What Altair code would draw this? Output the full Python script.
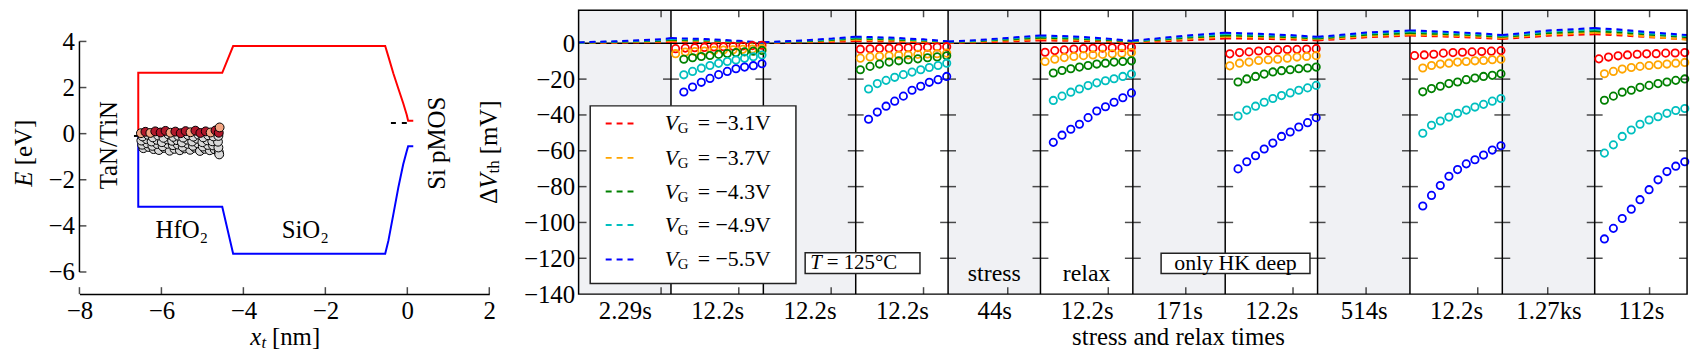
import json
import altair as alt
import pandas as pd

FONT = "Liberation Serif"

# ======================= left panel: band diagram =======================
band_x_nm = [-6.565, -6.565, -4.516, -4.25, -0.54, -0.46, -0.34, -0.22, -0.10, -0.015, 0.02, 0.145]
conduction_band_eV = [-0.05, 2.64, 2.64, 3.80, 3.80, 3.33, 2.61, 1.96, 1.32, 0.82, 0.56, 0.56]
valence_band_eV = [-0.10, -3.17, -3.17, -5.21, -5.21, -4.63, -3.49, -2.34, -1.33, -0.76, -0.55, -0.55]
metal_fermi_x_nm = [-6.67, -6.55]
metal_fermi_eV = [-0.10, -0.10]
si_fermi_x_nm = [-0.40, 0.00]
si_fermi_eV = [0.46, 0.46]

trap_x_nm = [
    -6.44, -6.31, -6.19, -6.06, -5.93, -5.80, -5.68, -5.55, -5.43, -5.30, -5.18, -5.06, -4.94, -4.82, -4.70, -4.60, -4.59,
    -6.47, -6.35, -6.22, -6.10, -5.97, -5.85, -5.72, -5.60, -5.48, -5.36, -5.23, -5.11, -4.99, -4.87, -4.74, -4.61,
    -6.49, -6.36, -6.24, -6.11, -5.99, -5.86, -5.74, -5.62, -5.50, -5.37, -5.25, -5.13, -5.00, -4.88, -4.76, -4.62,
    -6.46, -6.33, -6.21, -6.08, -5.95, -5.83, -5.71, -5.59, -5.47, -5.35, -5.22, -5.10, -4.98, -4.86, -4.73, -4.61,
    -6.50, -6.39, -6.27, -6.15, -6.02, -5.90, -5.78, -5.66, -5.53, -5.41, -5.29, -5.17, -5.05, -4.92, -4.80, -4.68, -4.60, -4.58,
]
trap_E_eV = [
    -0.63, -0.58, -0.67, -0.71, -0.62, -0.74, -0.66, -0.72, -0.64, -0.70, -0.61, -0.75, -0.66, -0.72, -0.68, -0.80, -0.90,
    -0.48, -0.42, -0.53, -0.45, -0.55, -0.44, -0.50, -0.47, -0.57, -0.44, -0.53, -0.42, -0.56, -0.49, -0.51, -0.60,
    -0.30, -0.24, -0.34, -0.27, -0.37, -0.25, -0.31, -0.28, -0.38, -0.26, -0.34, -0.22, -0.37, -0.29, -0.33, -0.35,
    -0.12, -0.05, -0.16, -0.08, -0.18, -0.03, -0.14, -0.09, -0.17, -0.06, -0.13, -0.04, -0.16, -0.07, -0.12, -0.10,
    0.02, 0.08, 0.03, 0.10, 0.05, 0.12, 0.04, 0.09, 0.02, 0.11, 0.06, 0.13, 0.03, 0.10, 0.05, 0.14, 0.04, 0.27,
]
trap_state = (["empty"] * 17 + ["empty"] * 16 + ["empty"] * 16 + ["empty"] * 16 + [
    "partial", "occupied", "partial", "occupied", "occupied", "occupied", "partial", "occupied", "occupied",
    "occupied", "partial", "occupied", "occupied", "occupied", "partial", "occupied", "occupied", "partial"])

left_x_ticks = [-8, -6, -4, -2, 0, 2]
left_y_ticks = [-6, -4, -2, 0, 2, 4]

# ======================= right panel: threshold shift =======================
segment_labels = ["2.29s", "12.2s", "12.2s", "12.2s", "44s", "12.2s", "171s", "12.2s", "514s", "12.2s", "1.27ks", "112s"]
segment_durations_s = [2.29, 12.2, 12.2, 12.2, 44.0, 12.2, 171.0, 12.2, 514.0, 12.2, 1270.0, 112.0]
segment_phase = ["stress", "relax"] * 6
series_labels = ["−3.1V", "−3.7V", "−4.3V", "−4.9V", "−5.5V"]
series_colors = ["#ff0000", "#ffa500", "#008000", "#00bfbf", "#0000ff"]
dvth_ticks = [-140, -120, -100, -80, -60, -40, -20, 0]

# measured relaxation times (s)
t_relax_12s_early = [0.0016, 0.0043, 0.0113, 0.030, 0.080, 0.21, 0.56, 1.5, 4.0, 10.6]
t_relax_12s_late = [0.0037, 0.0090, 0.022, 0.053, 0.128, 0.31, 0.75, 1.8, 4.4, 10.6]
t_relax_112s_early = [0.0017, 0.0057, 0.019, 0.062, 0.21, 0.69, 2.3, 7.6, 25.0, 84.0]
t_relax_112s_late = [0.0034, 0.0105, 0.032, 0.10, 0.30, 0.94, 2.9, 8.9, 27.0, 84.0]

# measured dVth (mV), rows = series (-3.1V ... -5.5V)
relax2_mV = [[-3.0, -2.7, -2.5, -2.3, -2.1, -1.9, -1.7, -1.5, -1.3, -1.1],
             [-5.8, -4.9, -4.6, -4.3, -4.0, -3.8, -3.6, -3.4, -3.2, -3.0],
             [-8.9, -8.1, -7.4, -6.8, -6.2, -5.7, -5.2, -4.8, -4.4, -4.0],
             [-17.6, -15.7, -13.9, -12.4, -11.2, -10.2, -9.3, -8.4, -7.5, -6.6],
             [-27.2, -24.4, -21.8, -19.6, -17.5, -15.7, -14.2, -13.3, -12.5, -11.4]]
relax4_mV = [[-3.3, -3.1, -2.9, -2.8, -2.6, -2.5, -2.4, -2.2, -2.1, -1.9],
             [-8.3, -7.6, -7.3, -7.0, -6.7, -6.5, -6.2, -6.0, -5.8, -5.5],
             [-14.8, -12.9, -11.6, -10.5, -9.8, -9.2, -8.7, -8.1, -7.6, -7.0],
             [-25.5, -22.5, -20.7, -19.0, -17.5, -16.1, -14.8, -13.5, -12.4, -11.1],
             [-42.4, -38.4, -35.1, -32.3, -29.5, -26.2, -24.0, -21.8, -20.3, -18.5]]
relax6_mV = [[-5.0, -4.1, -3.7, -3.2, -3.0, -2.8, -2.7, -2.5, -2.4, -2.2],
             [-10.2, -8.9, -8.0, -7.4, -6.9, -6.5, -6.2, -5.9, -5.6, -5.2],
             [-16.6, -15.2, -14.2, -13.3, -12.4, -11.6, -11.1, -10.5, -10.2, -9.8],
             [-31.9, -29.5, -27.3, -25.5, -23.6, -22.1, -20.9, -19.8, -18.5, -17.2],
             [-55.3, -51.3, -48.0, -45.2, -41.5, -37.8, -35.4, -32.9, -30.4, -27.7]]
relax8_mV = [[-5.9, -5.2, -4.8, -4.3, -4.1, -3.7, -3.5, -3.4, -3.2, -3.0],
             [-12.6, -11.1, -10.5, -9.6, -9.2, -8.9, -8.3, -7.7, -7.4, -6.9],
             [-21.6, -19.9, -18.5, -17.2, -16.0, -15.3, -14.8, -14.2, -13.8, -13.3],
             [-40.6, -37.3, -35.1, -32.9, -30.8, -29.2, -27.7, -26.2, -24.9, -23.5],
             [-70.1, -66.1, -62.8, -59.0, -55.7, -52.0, -49.5, -46.7, -44.3, -41.5]]
relax10_mV = [[-6.9, -6.5, -6.1, -5.5, -5.2, -5.0, -4.8, -4.6, -4.4, -4.1],
              [-13.8, -12.4, -11.6, -11.1, -10.5, -10.2, -9.8, -9.6, -9.2, -8.9],
              [-27.1, -25.3, -24.0, -22.5, -21.6, -20.3, -19.4, -18.5, -17.9, -17.0],
              [-50.2, -45.8, -43.4, -41.2, -39.1, -37.3, -35.6, -34.1, -32.3, -30.8],
              [-90.8, -84.9, -79.4, -74.2, -70.5, -67.3, -65.0, -62.4, -59.6, -57.2]]
relax12_mV = [[-8.7, -7.7, -7.0, -6.5, -6.1, -5.9, -5.8, -5.5, -5.4, -5.2],
              [-17.0, -15.7, -14.4, -13.5, -12.9, -12.4, -12.0, -11.6, -11.1, -10.7],
              [-31.8, -29.5, -27.3, -26.2, -24.6, -23.5, -22.5, -21.6, -20.7, -19.9],
              [-61.3, -56.7, -52.0, -48.4, -45.2, -42.8, -41.0, -39.1, -37.5, -36.4],
              [-109.2, -103.3, -97.8, -92.6, -87.3, -81.7, -76.2, -71.6, -68.6, -66.1]]
# which series start at the earlier first measurement time
relax2_early = [True, True, False, False, False]
relax4_early = [True, True, True, False, False]
relax6_early = [True, True, False, False, False]
relax8_early = [True, True, False, False, False]
relax10_early = [True, False, False, False, False]
relax12_early = [True, False, False, False, False]

# model (dashed) dVth (mV) at times [1ms, 30ms, 1s, end of segment]
model_times_s = [0.001, 0.03, 1.0]
model1_mV = [[0.1, 0.3, 0.6, 0.9], [0.2, 0.5, 1.0, 1.4], [0.3, 0.8, 1.4, 1.9], [0.4, 1.0, 1.8, 2.4], [0.5, 1.2, 2.2, 2.9]]
model2_mV = [[0.9, 0.7, 0.3, 0.0], [1.4, 1.2, 0.6, 0.1], [1.9, 1.6, 0.9, 0.2], [2.4, 2.0, 1.1, 0.3], [2.9, 2.4, 1.4, 0.4]]
model3_mV = [[0.1, 0.4, 0.8, 1.2], [0.3, 0.7, 1.3, 1.9], [0.4, 0.9, 1.8, 2.6], [0.5, 1.2, 2.2, 3.2], [0.6, 1.4, 2.6, 3.7]]
model4_mV = [[1.2, 1.0, 0.6, 0.2], [1.9, 1.6, 1.0, 0.5], [2.6, 2.2, 1.5, 0.7], [3.2, 2.7, 1.8, 0.9], [3.7, 3.2, 2.2, 1.1]]
model5_mV = [[0.2, 0.5, 1.0, 1.6], [0.4, 0.9, 1.6, 2.4], [0.6, 1.2, 2.1, 3.1], [0.8, 1.5, 2.6, 3.8], [1.0, 1.8, 3.0, 4.4]]
model6_mV = [[1.6, 1.3, 0.9, 0.3], [2.4, 2.0, 1.4, 0.6], [3.1, 2.6, 1.8, 0.9], [3.8, 3.2, 2.2, 1.1], [4.4, 3.8, 2.6, 1.3]]
model7_mV = [[0.4, 1.0, 1.7, 2.7], [0.7, 1.5, 2.4, 3.6], [1.0, 2.0, 3.1, 4.4], [1.2, 2.4, 3.7, 5.2], [1.5, 2.8, 4.3, 5.9]]
model8_mV = [[2.7, 2.5, 2.1, 1.6], [3.6, 3.3, 2.8, 2.2], [4.4, 4.0, 3.4, 2.7], [5.2, 4.7, 4.0, 3.2], [5.9, 5.3, 4.5, 3.6]]
model9_mV = [[1.6, 2.4, 3.3, 4.3], [2.2, 3.0, 3.9, 4.9], [2.7, 3.6, 4.7, 5.7], [3.2, 4.2, 5.4, 6.5], [3.6, 4.7, 6.0, 7.2]]
model10_mV = [[4.3, 3.8, 3.1, 2.4], [4.9, 4.4, 3.7, 3.0], [5.7, 5.2, 4.4, 3.6], [6.5, 5.9, 5.0, 4.1], [7.2, 6.5, 5.6, 4.6]]
model11_mV = [[2.4, 3.3, 4.2, 5.0], [3.0, 3.9, 4.9, 5.9], [3.6, 4.6, 5.7, 6.8], [4.1, 5.2, 6.5, 7.7], [4.6, 5.8, 7.1, 8.5]]
model12_mV = [[5.0, 4.4, 3.4, 2.2], [5.9, 5.0, 3.7, 2.0], [6.8, 6.0, 4.8, 3.4], [7.7, 6.8, 5.5, 4.0], [8.5, 7.6, 6.2, 4.6]]

# ======================= build tables =======================
n_band = len(band_x_nm)
band_df = pd.DataFrame({
    "x": band_x_nm * 2,
    "E": conduction_band_eV + valence_band_eV,
    "band": ["Ec"] * n_band + ["Ev"] * n_band,
    "order": list(range(n_band)) * 2,
})
metal_df = pd.DataFrame({"x": metal_fermi_x_nm, "E": metal_fermi_eV})
sif_df = pd.DataFrame({"x": si_fermi_x_nm, "E": si_fermi_eV})
trap_df = pd.DataFrame({"x": trap_x_nm, "E": trap_E_eV, "state": trap_state, "order": range(len(trap_x_nm))})
lxt_df = pd.DataFrame({"x": left_x_ticks})
lyt_df = pd.DataFrame({"E": left_y_ticks})

seg_df = pd.DataFrame({"seg": range(12), "T": segment_durations_s, "phase": segment_phase})

relax_sets = [(1, relax2_mV, relax2_early), (3, relax4_mV, relax4_early), (5, relax6_mV, relax6_early),
              (7, relax8_mV, relax8_early), (9, relax10_mV, relax10_early), (11, relax12_mV, relax12_early)]
pts = []
for seg, vals, early in relax_sets:
    T = segment_durations_s[seg]
    te, tl = (t_relax_112s_early, t_relax_112s_late) if T > 50 else (t_relax_12s_early, t_relax_12s_late)
    for si, series in enumerate(vals):
        times = te if early[si] else tl
        for t, v in zip(times, series):
            pts.append({"seg": seg, "T": T, "t": t, "dv": v, "series": series_labels[si], "si": si})
pts_df = pd.DataFrame(pts)

model_sets = [model1_mV, model2_mV, model3_mV, model4_mV, model5_mV, model6_mV,
              model7_mV, model8_mV, model9_mV, model10_mV, model11_mV, model12_mV]
lines = []
for seg, vals in enumerate(model_sets):
    T = segment_durations_s[seg]
    times = model_times_s + [T]
    for si, series in enumerate(vals):
        for t, v in zip(times, series):
            lines.append({"seg": seg, "T": T, "t": t, "dv": v, "series": series_labels[si],
                          "key": f"{si}-{seg:02d}"})
lines_df = pd.DataFrame(lines)

bound_df = pd.DataFrame({"b": list(range(1, 12))})
ytick_inner = pd.DataFrame([{"b": b, "y": y} for b in range(1, 12) for y in dvth_ticks[1:-1]])
ytick_left = pd.DataFrame([{"b": 0, "y": y} for y in dvth_ticks[1:-1]])
ytick_right = pd.DataFrame([{"b": 12, "y": y} for y in dvth_ticks[1:-1]])
one = pd.DataFrame({"a": [0]})

XPOS = "datum.seg + (log(datum.t)/LN10 + 3) / (log(datum.T)/LN10 + 3)"

# ======================= left chart =======================
WL, H = 413, 286
XL = alt.Scale(domain=[-8, 2], nice=False, zero=False)
YL = alt.Scale(domain=[-6.96, 5.35], nice=False, zero=False)
lab = dict(labelFont=FONT, labelFontSize=25, labelColor="black", labelFlush=False, labelOverlap=False)
XL_AX = alt.Axis(values=left_x_ticks, title=None, grid=False, ticks=False, domain=True,
                 domainColor="black", domainWidth=1.5, labelPadding=5, **lab)
YL_AX = alt.Axis(values=left_y_ticks, title=None, grid=False, ticks=False, domain=False,
                 labelPadding=5, **lab)


def xl(f):
    return alt.X(f, scale=XL, axis=XL_AX)


def yl(f):
    return alt.Y(f, scale=YL, axis=YL_AX)


def xld(v):
    return alt.XDatum(v, scale=XL, axis=XL_AX)


def yld(v):
    return alt.YDatum(v, scale=YL, axis=YL_AX)


bands = alt.Chart(band_df).mark_line(strokeWidth=2).encode(
    x=xl("x:Q"), y=yl("E:Q"),
    color=alt.Color("band:N", scale=alt.Scale(domain=["Ec", "Ev"], range=["#ff0000", "#0000ff"]), legend=None),
    order="order:Q",
)
metal = alt.Chart(metal_df).mark_line(color="black", strokeWidth=2).encode(x=xl("x:Q"), y=yl("E:Q"))
sif = alt.Chart(sif_df).mark_line(color="black", strokeWidth=2, strokeDash=[5, 6]).encode(x=xl("x:Q"), y=yl("E:Q"))
traps = alt.Chart(trap_df).mark_point(shape="circle", filled=True, size=80, stroke="black",
                                      strokeWidth=1, opacity=1).encode(
    x=xl("x:Q"), y=yl("E:Q"),
    fill=alt.Fill("state:N", scale=alt.Scale(domain=["empty", "partial", "occupied"],
                                             range=["#d9d9d9", "#f4a582", "#b2182b"]), legend=None),
    order="order:Q",
)
lspine = alt.Chart(one).mark_rule(color="black", strokeWidth=1.5).encode(
    x=xld(-8), y=yld(-6), y2=alt.Y2Datum(4))
lyticks = alt.Chart(lyt_df).mark_tick(orient="horizontal", size=7, thickness=1.5, color="black", xOffset=3.5).encode(
    x=xld(-8), y=yl("E:Q"))
lxticks = alt.Chart(lxt_df).mark_tick(orient="vertical", size=7, thickness=1.5, color="black", yOffset=-3.5).encode(
    x=xl("x:Q"), y=yld(-6.96))


def dtext(txt, x, y, size=25, angle=0, style="normal"):
    return alt.Chart(one).mark_text(text=txt, font=FONT, fontSize=size, angle=angle, fontStyle=style,
                                    color="black", align="center", baseline="middle").encode(
        x=xld(x), y=yld(y))


def ptext(txt, x, y, size=25, angle=0, style="normal", align="left"):
    return alt.Chart(one).mark_text(text=txt, font=FONT, fontSize=size, angle=angle, fontStyle=style,
                                    color="black", align=align, baseline="middle").encode(
        x=alt.value(x), y=alt.value(y))


left_texts = [
    dtext("TaN/TiN", -7.27, -0.5, angle=270),
    dtext("Si pMOS", 0.72, -0.42, angle=270),
    dtext("HfO₂", -5.5, -4.2),
    dtext("SiO₂", -2.49, -4.2),
    # y title  "E [eV]"
    ptext("E", -56, 177.7, angle=270, style="italic"),
    ptext("[eV]", -56, 156.1, angle=270),
    # x title "x_t [nm]"
    ptext("x", 172, 329, style="italic"),
    ptext("t", 183.5, 335, size=17, style="italic"),
    ptext("[nm]", 194, 329),
]

left = alt.layer(bands, metal, sif, traps, lspine, lyticks, lxticks, *left_texts).properties(width=WL, height=H)

# ======================= right chart =======================
WR = 1117
Y_TOP = 18.4
XS = alt.Scale(domain=[0, 12], nice=False, zero=False)
YS = alt.Scale(domain=[-140, Y_TOP], nice=False, zero=False)
label_expr = json.dumps(segment_labels) + "[floor(datum.value)]"
XR_AX = alt.Axis(values=[i + 0.5 for i in range(12)], labelExpr=label_expr, grid=False, ticks=False, domain=False,
                 labelPadding=5, title="stress and relax times", titleFont=FONT, titleFontSize=25,
                 titleFontWeight="normal", titleColor="black", titleX=604, titleY=43, titleBaseline="middle",
                 titleAlign="center", **lab)
YR_AX = alt.Axis(values=dvth_ticks, title=None, grid=False, ticks=False, domain=False, labelPadding=4, **lab)
col_scale = alt.Scale(domain=series_labels, range=series_colors)


def xr(f):
    return alt.X(f, scale=XS, axis=XR_AX)


def yr(f):
    return alt.Y(f, scale=YS, axis=YR_AX)


def xrd(v):
    return alt.XDatum(v, scale=XS, axis=XR_AX)


def yrd(v):
    return alt.YDatum(v, scale=YS, axis=YR_AX)


gray = alt.Chart(seg_df).transform_filter("datum.phase == 'stress'").transform_calculate(
    seg_end="datum.seg + 1").mark_rect(color="#f0f1f4").encode(
    x=xr("seg:Q"), x2="seg_end:Q", y=yrd(Y_TOP), y2=alt.Y2Datum(-140))
zero_rule = alt.Chart(one).mark_rule(color="black", strokeWidth=1.5).encode(y=yrd(0))
bounds_rule = alt.Chart(bound_df).mark_rule(color="black", strokeWidth=1.5).encode(x=xr("b:Q"))
yt_in = alt.Chart(ytick_inner).mark_tick(orient="horizontal", size=16, thickness=1.5, color="black").encode(
    x=xr("b:Q"), y=yr("y:Q"))
yt_l = alt.Chart(ytick_left).mark_tick(orient="horizontal", size=8, thickness=1.5, color="black", xOffset=4).encode(
    x=xr("b:Q"), y=yr("y:Q"))
yt_r = alt.Chart(ytick_right).mark_tick(orient="horizontal", size=8, thickness=1.5, color="black", xOffset=-4).encode(
    x=xr("b:Q"), y=yr("y:Q"))
dec_base = alt.Chart(seg_df).transform_calculate(t="1").transform_calculate(xpos=XPOS)
dec_top = dec_base.mark_tick(orient="vertical", size=7, thickness=1.5, color="black", yOffset=3.5).encode(
    x=xr("xpos:Q"), y=yrd(Y_TOP))
dec_bot = dec_base.mark_tick(orient="vertical", size=7, thickness=1.5, color="black", yOffset=-3.5).encode(
    x=xr("xpos:Q"), y=yrd(-140))

model_lines = alt.Chart(lines_df).transform_calculate(xpos=XPOS).mark_line(
    strokeDash=[6, 5], strokeWidth=2).encode(
    x=xr("xpos:Q"), y=yr("dv:Q"),
    color=alt.Color("series:N", scale=col_scale, legend=None), detail="key:N", order="t:Q")
meas = alt.Chart(pts_df).transform_calculate(xpos=XPOS).mark_point(
    shape="circle", filled=False, size=55, strokeWidth=1.8, opacity=1).encode(
    x=xr("xpos:Q"), y=yr("dv:Q"),
    color=alt.Color("series:N", scale=col_scale, legend=None), order="si:Q")


def box(x1, x2, y1, y2):
    return alt.Chart(one).mark_rect(fill="white", stroke="#222222", strokeWidth=1.5).encode(
        x=alt.value(x1), x2=alt.value(x2), y=alt.value(y1), y2=alt.value(y2))


legend_rows_y = [114, 148.7, 182.7, 216.3, 251]
legend_layers = [box(11.7, 219, 96.3, 275.3)]
for lbl, colr, ry in zip(series_labels, series_colors, legend_rows_y):
    legend_layers.append(alt.Chart(one).mark_rule(color=colr, strokeDash=[6, 5], strokeWidth=2).encode(
        x=alt.value(27.3), x2=alt.value(58.3), y=alt.value(ry)))
    legend_layers.append(ptext("V", 86.7, ry, size=22, style="italic"))
    legend_layers.append(ptext("G", 100, ry + 5, size=15))
    legend_layers.append(ptext("= " + lbl, 120, ry, size=22))

annot = [
    box(228.3, 344, 244.3, 265.3),
    ptext("T", 233.5, 255, size=21, style="italic"),
    ptext("= 125°C", 250, 255, size=21),
    box(587, 737, 244.7, 265.3),
    ptext("only HK deep", 662, 255, size=22, align="center"),
    alt.Chart(one).mark_text(text="stress", font=FONT, fontSize=24, color="black", baseline="middle").encode(
        x=xrd(4.5), y=alt.value(266)),
    alt.Chart(one).mark_text(text="relax", font=FONT, fontSize=24, color="black", baseline="middle").encode(
        x=xrd(5.5), y=alt.value(266)),
    # y title "ΔV_th [mV]"
    ptext("Δ", -90, 195.1, angle=270),
    ptext("V", -90, 179.8, angle=270, style="italic"),
    ptext("th", -85, 164.5, size=17, angle=270),
    ptext("[mV]", -90, 145.0, angle=270),
]

border = alt.Chart(one).mark_rect(filled=False, stroke="black", strokeWidth=1.5).encode(
    x=xrd(0), x2=alt.X2Datum(12), y=yrd(Y_TOP), y2=alt.Y2Datum(-140))

right = alt.layer(gray, zero_rule, bounds_rule, yt_in, yt_l, yt_r, dec_top, dec_bot,
                  model_lines, meas, *legend_layers, *annot, border).properties(width=WR, height=H)

chart = alt.hconcat(left, right, spacing=90, bounds="flush").resolve_scale(
    color="independent", fill="independent", x="independent", y="independent"
).properties(
    padding={"left": 4, "top": 0, "right": 2, "bottom": 0}
).configure(font=FONT).configure_view(stroke=None)

chart.save("out.html", embed_options={"renderer": "svg", "actions": False})
